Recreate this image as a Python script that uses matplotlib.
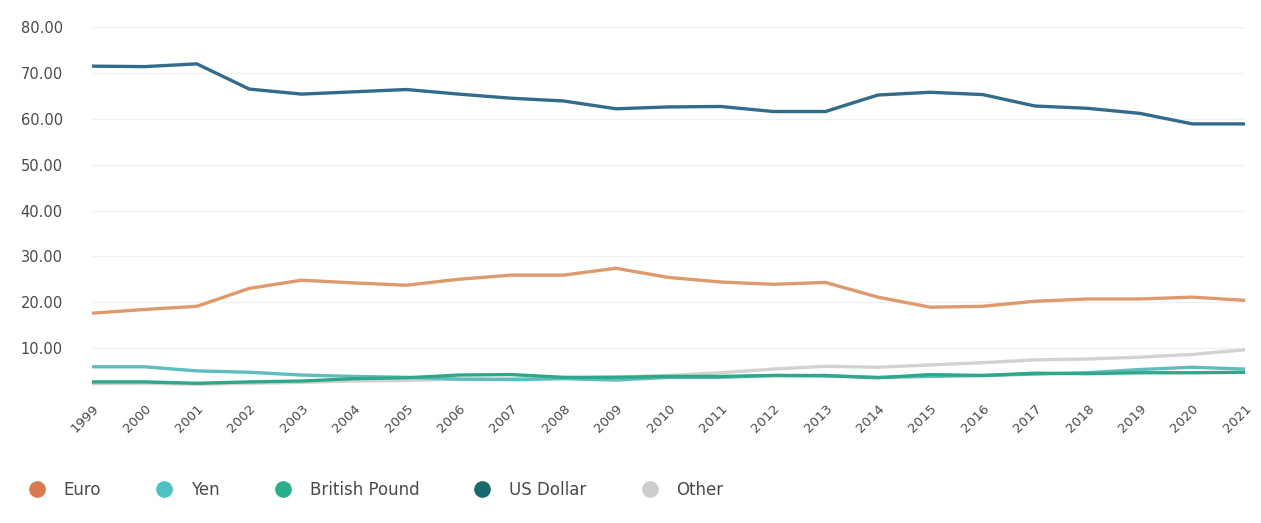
import matplotlib
matplotlib.use("Agg")
import matplotlib.pyplot as plt
from matplotlib.lines import Line2D

years = list(range(1999, 2022))

euro = [17.6, 18.4, 19.1, 23.0, 24.8, 24.2, 23.7, 25.0, 25.9, 25.9, 27.4, 25.4,
        24.4, 23.9, 24.3, 21.1, 18.9, 19.1, 20.2, 20.7, 20.7, 21.1, 20.4]
yen = [5.9, 5.9, 5.0, 4.7, 4.1, 3.8, 3.6, 3.2, 3.1, 3.3, 3.0, 3.6,
       3.6, 4.0, 3.9, 3.6, 3.8, 4.0, 4.3, 4.6, 5.3, 5.8, 5.4]
pound = [2.6, 2.6, 2.3, 2.6, 2.8, 3.3, 3.5, 4.1, 4.2, 3.6, 3.6, 3.8,
         3.8, 4.0, 4.0, 3.5, 4.2, 4.0, 4.5, 4.4, 4.6, 4.6, 4.7]
usd = [71.5, 71.4, 72.0, 66.5, 65.4, 65.9, 66.4, 65.4, 64.5, 63.9, 62.2, 62.6,
       62.7, 61.6, 61.6, 65.2, 65.8, 65.3, 62.8, 62.3, 61.2, 58.9, 58.9]
other = [2.2, 2.3, 2.1, 2.3, 2.5, 2.8, 2.9, 3.2, 3.3, 3.4, 3.7, 4.0,
         4.6, 5.4, 6.0, 5.8, 6.3, 6.8, 7.4, 7.6, 8.0, 8.6, 9.6]

labels = ["Euro", "Yen", "British Pound", "US Dollar", "Other"]
line_colors = ["#dd9a6c", "#5fbcbf", "#2fa88a", "#336b8a", "#d2d2d2"]
marker_colors = ["#d97a4e", "#4cc3c0", "#27b08a", "#176b6e", "#cccccc"]

fig = plt.figure(figsize=(12.61, 5.23), dpi=100)
ax = fig.add_axes([0.073, 0.247, 0.914, 0.701])

series = [euro, yen, pound, usd, other]
# draw "other" first so it sits underneath
for i in [4, 0, 1, 2, 3]:
    ax.plot(years, series[i], color=line_colors[i], lw=2.4,
            solid_joinstyle="round", solid_capstyle="round")

ax.set_xlim(1999, 2021)
ax.set_ylim(0, 80)
ticks = [10, 20, 30, 40, 50, 60, 70, 80]
ax.set_yticks(ticks)
ax.set_yticklabels([f"{v:.2f}" for v in ticks])
ax.set_xticks(years)
ax.set_xticklabels([str(y) for y in years], rotation=45, ha="right",
                   rotation_mode="anchor")
ax.tick_params(axis="y", length=0, pad=21, labelsize=10.5, labelcolor="#4a4a4a")
ax.tick_params(axis="x", length=0, pad=6, labelsize=9.5, labelcolor="#4a4a4a")
ax.grid(axis="y", color="#f0f0f0", lw=1)
ax.set_axisbelow(True)
for s in ax.spines.values():
    s.set_visible(False)

handles = [Line2D([], [], ls="none", marker="o", markersize=11,
                  markerfacecolor=c, markeredgecolor=c) for c in marker_colors]
fig.legend(handles, labels, loc="center left", bbox_to_anchor=(0.004, 0.063),
           ncol=5, frameon=False, fontsize=12, handletextpad=0.6,
           columnspacing=2.8, labelcolor="#4a4a4a")

fig.savefig("out.png", dpi=100, facecolor="white")
